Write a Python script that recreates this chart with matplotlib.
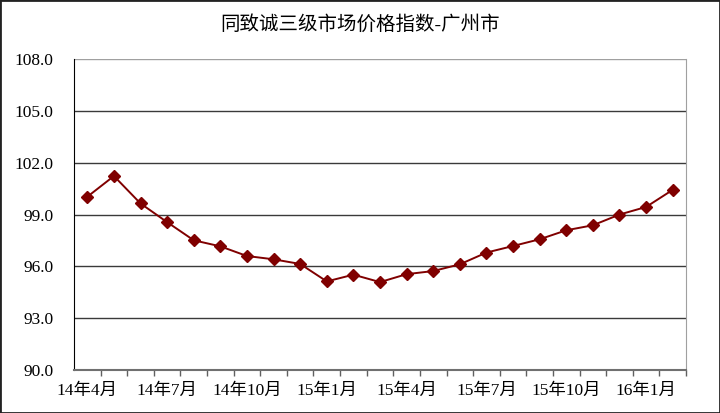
import matplotlib
matplotlib.use("Agg")
import matplotlib.pyplot as plt
from matplotlib.patches import Rectangle
from matplotlib.ticker import FixedLocator, NullFormatter

plt.rcParams["font.family"] = ["Liberation Serif", "Noto Sans CJK SC", "DejaVu Sans"]

TITULO = "同致诚三级市场价格指数-广州市"
meses = ["14年4月", "14年5月", "14年6月", "14年7月", "14年8月", "14年9月",
         "14年10月", "14年11月", "14年12月", "15年1月", "15年2月", "15年3月",
         "15年4月", "15年5月", "15年6月", "15年7月", "15年8月", "15年9月",
         "15年10月", "15年11月", "15年12月", "16年1月", "16年2月"]
indice = [100.03, 101.23, 99.64, 98.56, 97.51, 97.16, 96.60, 96.41, 96.14,
          95.13, 95.52, 95.09, 95.55, 95.73, 96.12, 96.80, 97.18, 97.57,
          98.09, 98.38, 99.00, 99.44, 100.43]
y_ticks = [90.0, 93.0, 96.0, 99.0, 102.0, 105.0, 108.0]

fig = plt.figure(figsize=(7.2, 4.13), dpi=100)
ax = fig.add_axes([0.1028, 0.104, 0.850, 0.753])

x = list(range(len(meses)))
ax.plot(x, indice, color="#800000", linewidth=1.4, marker="D",
        markersize=6, markerfacecolor="#800000", markeredgecolor="#800000",
        zorder=3)

ax.set_xlim(-0.5, len(meses) - 0.5)
ax.set_ylim(90, 108)

# grid horizontal
ax.set_yticks(y_ticks)
ax.set_yticklabels([f"{v:.1f}" for v in y_ticks], fontsize=12.5)
for v in y_ticks[1:-1]:
    ax.axhline(v, color="#3a3a3a", linewidth=1.0, zorder=1)
ax.axhline(108, color="#a0a0a0", linewidth=1.0, zorder=1)
ax.tick_params(axis="y", length=0, pad=15)

# etiquetas cada 3 meses, ticks entre categorias
etiq_pos = x[::3]
ax.set_xticks(etiq_pos)
ax.set_xticklabels([meses[i] for i in etiq_pos], fontsize=12.5)
ax.tick_params(axis="x", which="major", length=0, pad=9)
ax.xaxis.set_minor_locator(FixedLocator([i + 0.5 for i in x]))
ax.xaxis.set_minor_formatter(NullFormatter())
ax.tick_params(axis="x", which="minor", length=4, color="#606060", width=1)

ax.spines["left"].set_color("#000000")
ax.spines["bottom"].set_color("#707070")
ax.spines["bottom"].set_linewidth(1.5)
ax.spines["top"].set_visible(False)
ax.spines["right"].set_color("#a0a0a0")

fig.text(0.5, 0.94, TITULO, ha="center", va="center", fontsize=14)

fig.patches.append(Rectangle((0, 0), 1, 1, transform=fig.transFigure,
                             fill=False, edgecolor="#222222", linewidth=2))

fig.savefig("out.png", dpi=100)
